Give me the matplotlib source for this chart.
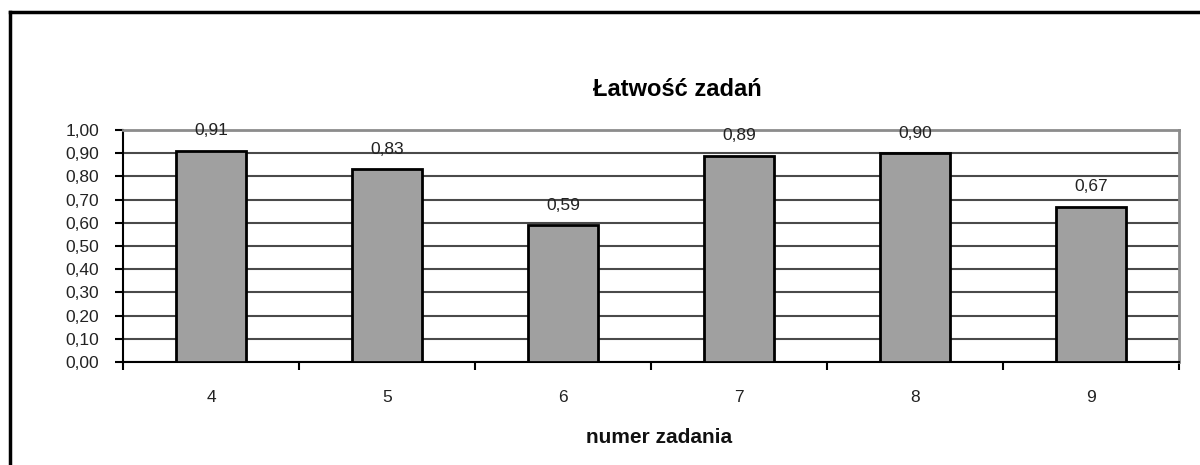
import matplotlib
matplotlib.use('Agg')
import matplotlib.pyplot as plt
from matplotlib.lines import Line2D
from matplotlib.ticker import FixedLocator, FuncFormatter

plt.rcParams['font.family'] = ['Liberation Sans', 'DejaVu Sans']

# dane
zadania = ['4', '5', '6', '7', '8', '9']
latwosc = [0.91, 0.83, 0.59, 0.89, 0.90, 0.67]
y_ticks = [0.0, 0.1, 0.2, 0.3, 0.4, 0.5, 0.6, 0.7, 0.8, 0.9, 1.0]

fig = plt.figure(figsize=(12, 4.65), dpi=100)
ax = fig.add_axes([0.1025, 0.2215, 0.88, 0.4989])

x = list(range(len(zadania)))
ax.bar(x, latwosc, width=0.4, color='#a0a0a0', edgecolor='black', linewidth=2, zorder=3)

# etykiety wartosci (przecinek dziesietny)
for xi, v in zip(x, latwosc):
    ax.annotate(f'{v:.2f}'.replace('.', ','), (xi, v), xytext=(0, 9),
                textcoords='offset points', ha='center', va='bottom',
                fontsize=12.5, color='#222222')

ax.set_xlim(-0.5, len(zadania) - 0.5)
ax.set_ylim(0, 1.0)
ax.set_yticks(y_ticks)
ax.yaxis.set_major_formatter(FuncFormatter(lambda v, p: f'{v:.2f}'.replace('.', ',')))
ax.set_xticks(x)
ax.set_xticklabels(zadania)
ax.xaxis.set_minor_locator(FixedLocator([i - 0.5 for i in range(len(zadania) + 1)]))
ax.tick_params(axis='x', which='major', length=0, pad=20, labelsize=12.5, labelcolor='#222222')
ax.tick_params(axis='x', which='minor', length=6, width=1.5, color='black')
ax.tick_params(axis='y', length=6, width=1.5, labelsize=12.5, pad=11, labelcolor='#222222')

ax.grid(axis='y', color='#4a4a4a', linewidth=1.5, zorder=1)
ax.set_axisbelow(True)
for s in ['top', 'right']:
    ax.spines[s].set_color('#8c8c8c')
    ax.spines[s].set_linewidth(2)
for s in ['left', 'bottom']:
    ax.spines[s].set_color('black')
    ax.spines[s].set_linewidth(1.5)

fig.text(677 / 1200, 1 - 89 / 465, 'Łatwość zadań', ha='center', va='center',
         fontsize=17, fontweight='bold')
fig.text(659 / 1200, 1 - 437 / 465, 'numer zadania', ha='center', va='center',
         fontsize=15, fontweight='bold', color='#111111')

# ramka wykresu
fig.add_artist(Line2D([9.5 / 1200, 1.0], [1 - 12 / 465, 1 - 12 / 465],
                      transform=fig.transFigure, color='black', linewidth=2.5))
fig.add_artist(Line2D([9.5 / 1200, 9.5 / 1200], [0, 1 - 12 / 465],
                      transform=fig.transFigure, color='black', linewidth=2.5))

fig.savefig('out.png', dpi=100, facecolor='white')
